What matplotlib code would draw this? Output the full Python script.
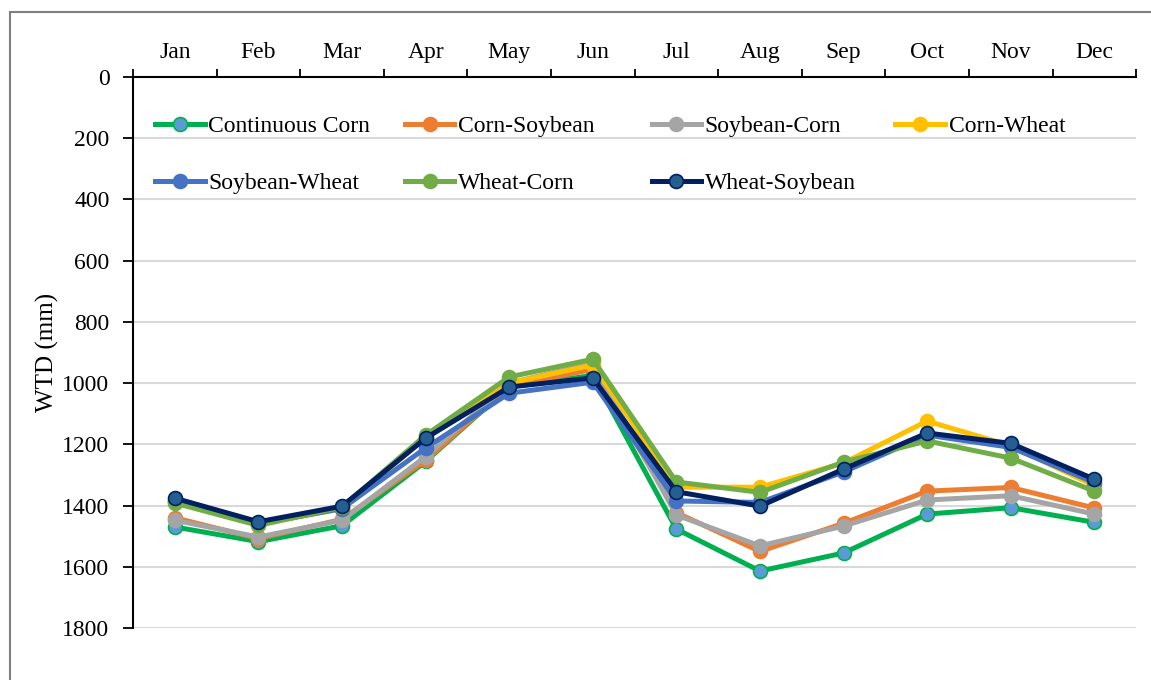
import matplotlib
matplotlib.use("Agg")
import matplotlib.pyplot as plt
from matplotlib.patches import Rectangle
from matplotlib.legend import Legend
import numpy as np

plt.rcParams["font.family"] = ["Liberation Serif", "DejaVu Serif"]

months = ["Jan", "Feb", "Mar", "Apr", "May", "Jun",
          "Jul", "Aug", "Sep", "Oct", "Nov", "Dec"]

continuous_corn = [1470, 1518, 1466, 1256, 1012, 975, 1477, 1614, 1555, 1428, 1407, 1455]
corn_soybean    = [1440, 1508, 1445, 1252, 1010, 955, 1423, 1550, 1458, 1353, 1341, 1408]
soybean_corn    = [1448, 1503, 1448, 1240, 1000, 935, 1431, 1532, 1467, 1382, 1368, 1428]
corn_wheat      = [1385, 1462, 1410, 1178, 1000, 941, 1340, 1340, 1261, 1124, 1205, 1335]
soybean_wheat   = [1385, 1460, 1410, 1212, 1033, 997, 1385, 1390, 1290, 1170, 1210, 1325]
wheat_corn      = [1392, 1465, 1405, 1170, 980, 922, 1323, 1357, 1258, 1189, 1245, 1353]
wheat_soybean   = [1376, 1453, 1402, 1180, 1013, 983, 1355, 1402, 1281, 1163, 1197, 1314]

series = [
    ("Continuous Corn", continuous_corn, "#00B050", "#5B9BD5"),
    ("Corn-Soybean", corn_soybean, "#ED7D31", "#ED7D31"),
    ("Soybean-Corn", soybean_corn, "#A5A5A5", "#A5A5A5"),
    ("Corn-Wheat", corn_wheat, "#FFC000", "#FFC000"),
    ("Soybean-Wheat", soybean_wheat, "#4472C4", "#4472C4"),
    ("Wheat-Corn", wheat_corn, "#70AD47", "#70AD47"),
    ("Wheat-Soybean", wheat_soybean, "#002060", "#255E91"),
]

FS = 17

fig = plt.figure(figsize=(11.51, 6.80), dpi=100)
ax = fig.add_axes([0.1156, 0.0765, 0.8715, 0.8103])

# outer chart border (only left/top visible in the crop)
fig.patches.append(Rectangle((10 / 1151, -0.05), 1.2, 1 - 12 / 680 + 0.05,
                             transform=fig.transFigure, fill=False,
                             edgecolor="#7f7f7f", linewidth=1.5))

x = np.arange(len(months))
handles = []
for name, vals, lc, mc in series:
    h, = ax.plot(x, vals, color=lc, linewidth=3.6, marker="o", markersize=10,
                 markerfacecolor=mc, markeredgecolor=lc, markeredgewidth=1.2,
                 label=name)
    handles.append(h)

ax.set_ylim(1800, 0)
ax.set_xlim(-0.5, 11.5)
ax.set_yticks(np.arange(0, 1801, 200))
ax.yaxis.grid(True, color="#d9d9d9", linewidth=1.5)
ax.set_axisbelow(True)

ax.xaxis.tick_top()
ax.set_xticks(x)
ax.set_xticklabels(months)
ax.set_xticks(np.arange(-0.5, 12, 1), minor=True)
ax.tick_params(axis="x", which="major", length=0, pad=10, labelsize=FS)
ax.tick_params(axis="x", which="minor", length=6, width=1.3, direction="out")
ax.tick_params(axis="y", length=7, width=1.3, direction="out", pad=10, labelsize=FS)

for s in ["right", "bottom"]:
    ax.spines[s].set_visible(False)
ax.spines["top"].set_linewidth(1.5)
ax.spines["left"].set_linewidth(1.5)

ax.set_ylabel("WTD (mm)", fontsize=18, labelpad=2)

# legend: four equal-width columns, filled row by row
col_x = [0.022, 0.271, 0.517, 0.760]
for c in range(4):
    hs = handles[c::4]
    leg = Legend(ax, hs, [h.get_label() for h in hs], loc="upper left",
                 bbox_to_anchor=(col_x[c], 0.93), frameon=False, fontsize=FS,
                 handlelength=2.1, handletextpad=0.15, labelspacing=1.5,
                 borderaxespad=0, borderpad=0)
    ax.add_artist(leg)

fig.savefig("out.png", dpi=100, facecolor="white")
